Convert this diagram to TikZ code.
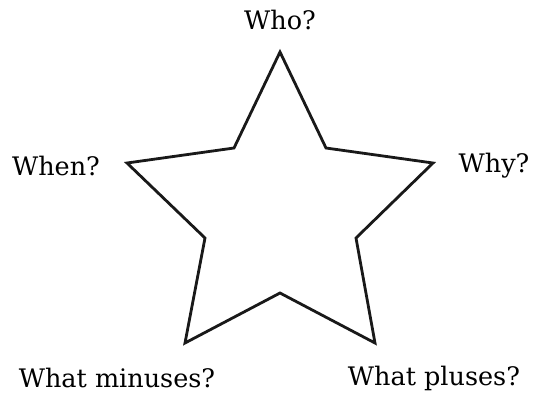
\documentclass[tikz,border=0pt]{standalone}
\usepackage{fontspec}
\setmainfont{DejaVu Serif}
\begin{document}
\begin{tikzpicture}[x=1pt,y=-1pt,
  lbl/.style={inner sep=0pt,font=\fontsize{25.5}{30}\selectfont},
  starline/.style={draw=black!90,line width=2.8pt,line join=miter}]
\useasboundingbox (0,0) rectangle (537,397);
\coordinate (p1) at (280,52);
\coordinate (q1) at (326,148);
\coordinate (p2) at (433,163);
\coordinate (q2) at (356,238);
\coordinate (p3) at (375,343);
\coordinate (q3) at (280,293);
\coordinate (p4) at (185,343);
\coordinate (q4) at (205,238);
\coordinate (p5) at (127,163);
\coordinate (q5) at (234,148);
\draw[starline] (p1) -- (q1) -- (p2) -- (q2) -- (p3) -- (q3) -- (p4) -- (q4) -- (p5) -- (q5) -- cycle;
\node[lbl] (who) at (280,20) {Who?};
\node[lbl] (when) at (56,166) {When?};
\node[lbl] (why) at (494,166) {Why?};
\node[lbl] (minus) at (117,378) {What minuses?};
\node[lbl] (plus) at (434,378) {What pluses?};
\end{tikzpicture}
\end{document}
